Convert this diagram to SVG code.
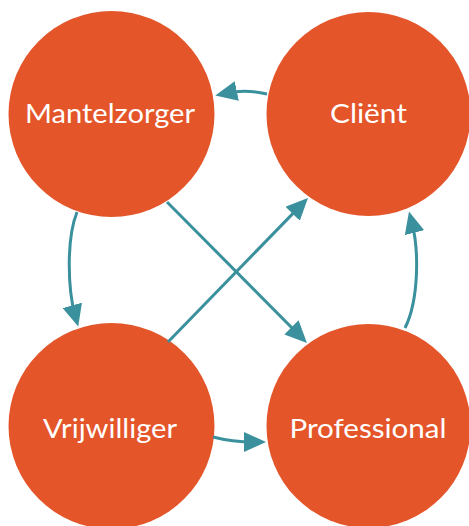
<svg xmlns="http://www.w3.org/2000/svg" width="469" height="526" viewBox="0 0 469 526">
<style>
.node{fill:#E4552A}
.lbl{fill:#FFFFFF;font-family:Lato,"Open Sans","Liberation Sans",sans-serif;font-size:27.5px;text-anchor:middle}
.edge{fill:none;stroke:#3A909C;stroke-width:3;marker-end:url(#arr)}
</style>
<defs>
<marker id="arr" viewBox="0 0 22 20" refX="10" refY="10" markerWidth="22" markerHeight="20" markerUnits="userSpaceOnUse" orient="auto">
<path d="M0,0 L22,10 L0,20 z" fill="#3A909C"/>
</marker>
</defs>
<rect width="469" height="526" fill="#FFFFFF"/>
<g id="mantelzorger">
<circle class="node" cx="111.5" cy="114" r="103"/>
<text class="lbl" x="110" y="122.5" textLength="170" lengthAdjust="spacingAndGlyphs">Mantelzorger</text>
</g>
<g id="client">
<circle class="node" cx="368.5" cy="114" r="102"/>
<text class="lbl" x="368.5" y="122.5" textLength="77" lengthAdjust="spacingAndGlyphs">Cliënt</text>
</g>
<g id="vrijwilliger">
<circle class="node" cx="111.5" cy="426" r="103"/>
<text class="lbl" x="110" y="437.5" textLength="134" lengthAdjust="spacingAndGlyphs">Vrijwilliger</text>
</g>
<g id="professional">
<circle class="node" cx="368.5" cy="426" r="102"/>
<text class="lbl" x="368" y="437.5" textLength="157" lengthAdjust="spacingAndGlyphs">Professional</text>
</g>
<g id="connectors">
<path class="edge" d="M267,94 Q246,89 227,93"/>
<path class="edge" d="M77,212 C66,240 68,290 75,315"/>
<path class="edge" d="M167,202 L298.5,334.5"/>
<path class="edge" d="M168,342 L299.6,206.6"/>
<path class="edge" d="M213,437 Q232,442 254,442"/>
<path class="edge" d="M405,328 C419,300 419,250 412,223"/>
</g>
</svg>
